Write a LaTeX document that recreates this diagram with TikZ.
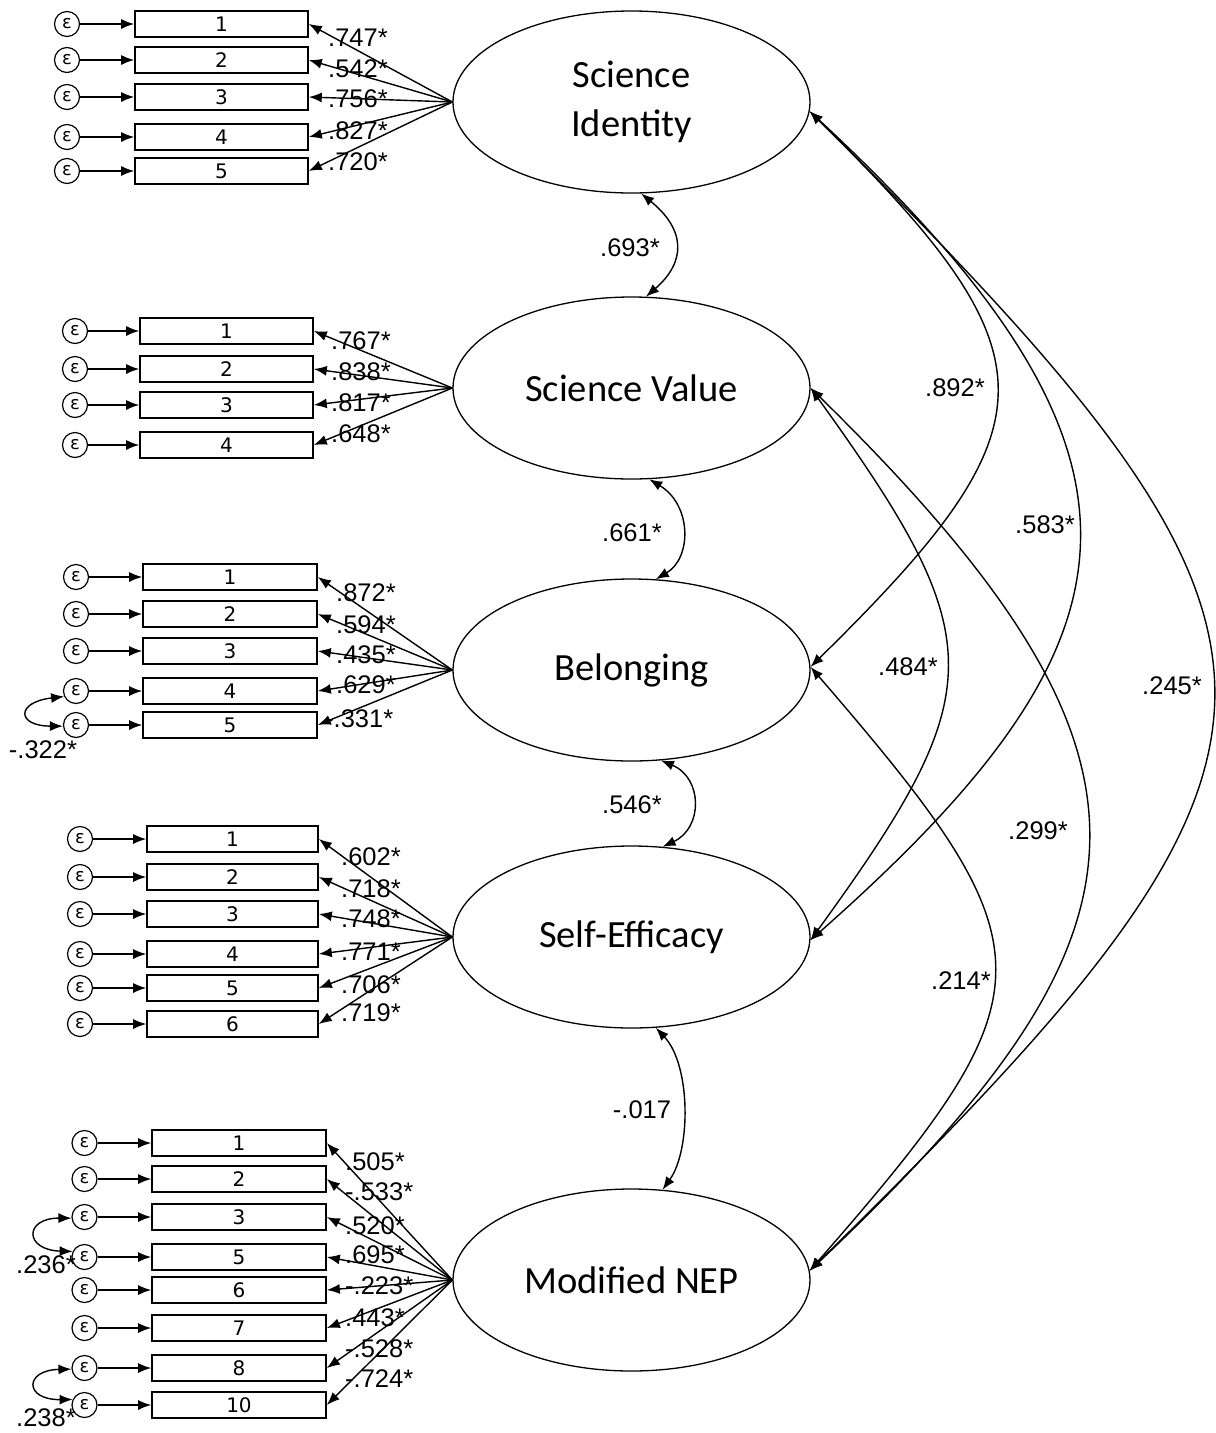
\documentclass[tikz,border=0pt]{standalone}
\usepackage{fontspec}
\setmainfont{Liberation Sans}
\newfontfamily\latfont{Carlito}
\newfontfamily\boxfont{DejaVu Sans}
\usetikzlibrary{arrows.meta,shapes.geometric}

\begin{document}
\begin{tikzpicture}[x=1pt,y=-1pt,
  latent/.style={draw, ellipse, line width=1.3pt, minimum width=357pt, minimum height=182pt,
    inner sep=0pt, align=center, font=\latfont\fontsize{38.5}{49}\selectfont},
  ind/.style={draw, rectangle, line width=1.6pt, minimum height=26pt, inner sep=0pt,
    font=\boxfont\fontsize{20}{20}\selectfont},
  err/.style={draw, circle, line width=1.2pt, minimum size=25pt, inner sep=0pt,
    font=\boxfont\fontsize{18}{18}\selectfont},
  arr/.style={line width=1.4pt, -{Latex[length=13pt,width=10pt]}},
  cov/.style={line width=1.4pt, {Latex[length=13pt,width=10pt]}-{Latex[length=13pt,width=10pt]}},
  lbl/.style={font=\fontsize{25.5}{25.5}\selectfont, inner sep=0pt},
]
\useasboundingbox[fill=white] (0,0) rectangle (1216,1433);

% latent factors
\node[latent] (si)  at (631.5,102)  {Science\\Identity};
\node[latent] (sv)  at (631.5,388)  {Science Value};
\node[latent] (bel) at (631.5,670)  {Belonging};
\node[latent] (se)  at (631.5,937)  {Self-Efficacy};
\node[latent] (nep) at (631.5,1280) {Modified NEP};

% Science Identity items
\foreach \n/\yy/\lab/\ly [count=\i] in {1/24/.747*/38, 2/60/.542*/69, 3/97/.756*/99,
    4/137/.827*/131, 5/171/.720*/162} {
  \node[ind, minimum width=173pt] (si\i) at (221.5,\yy) {\n};
  \node[err] (sie\i) at (67,\yy) {ε};
  \draw[arr] (sie\i) -- (si\i);
  \draw[arr] (si.west) -- (si\i.east);
  \node[lbl, anchor=west] (sil\i) at (328,\ly) {\lab};
}

% Science Value items
\foreach \n/\yy/\lab/\ly [count=\i] in {1/331/.767*/341, 2/369/.838*/372, 3/405/.817*/403,
    4/445/.648*/434} {
  \node[ind, minimum width=173pt] (sv\i) at (226.5,\yy) {\n};
  \node[err] (sve\i) at (75,\yy) {ε};
  \draw[arr] (sve\i) -- (sv\i);
  \draw[arr] (sv.west) -- (sv\i.east);
  \node[lbl, anchor=west] (svl\i) at (331,\ly) {\lab};
}

% Belonging items
\foreach \n/\yy/\lab/\ly/\lx [count=\i] in {1/577/.872*/593/336, 2/614/.594*/625/336,
    3/651/.435*/655/336, 4/691/.629*/685/336, 5/725/-.331*/719/325} {
  \node[ind, minimum width=174pt] (bel\i) at (230,\yy) {\n};
  \node[err] (bele\i) at (76,\yy) {ε};
  \draw[arr] (bele\i) -- (bel\i);
  \draw[arr] (bel.west) -- (bel\i.east);
  \node[lbl, anchor=west] (bell\i) at (\lx,\ly) {\lab};
}

% Self-Efficacy items
\foreach \n/\yy/\lab/\ly [count=\i] in {1/839/.602*/857, 2/877/.718*/889, 3/914/.748*/919,
    4/954/.771*/952, 5/988/.706*/985, 6/1024/.719*/1013} {
  \node[ind, minimum width=171pt] (se\i) at (232.5,\yy) {\n};
  \node[err] (see\i) at (80,\yy) {ε};
  \draw[arr] (see\i) -- (se\i);
  \draw[arr] (se.west) -- (se\i.east);
  \node[lbl, anchor=west] (sel\i) at (341,\ly) {\lab};
}

% Modified NEP items
\foreach \n/\yy/\lab/\ly [count=\i] in {1/1143/.505*/1162, 2/1179/-.533*/1192,
    3/1217/.520*/1226, 5/1257/.695*/1255, 6/1290/-.223*/1286, 7/1328/.443*/1318,
    8/1368/-.528*/1349, 10/1405/-.724*/1379} {
  \node[ind, minimum width=174pt] (nep\i) at (239,\yy) {\n};
  \node[err] (nepe\i) at (84.5,\yy) {ε};
  \draw[arr] (nepe\i) -- (nep\i);
  \draw[arr] (nep.west) -- (nep\i.east);
  \node[lbl, anchor=west] (nepl\i) at (345,\ly) {\lab};
}

% residual covariances
\draw[cov] (bele4.205) .. controls (16,702) and (16,726) .. (bele5.185);
\node[lbl] (c45) at (43,750) {-.322*};
\draw[cov] (nepe3.185) .. controls (24,1218) and (24,1250) .. (nepe4.155);
\node[lbl] (c35) at (46,1265) {.236*};
\draw[cov] (nepe7.185) .. controls (24,1370) and (24,1400) .. (nepe8.155);
\node[lbl] (c810) at (46,1418) {.238*};

% correlations between neighbouring factors
\draw[cov] (si.276) .. controls (686,230) and (686,262) .. (sv.81);
\node[lbl] (r12) at (630,248) {.693*};
\draw[cov] (sv.281) .. controls (692,505) and (692,558) .. (bel.75);
\node[lbl] (r23) at (632,533) {.661*};
\draw[cov] (bel.288) .. controls (703,778) and (703,828) .. (se.71);
\node[lbl] (r34) at (632,805) {.546*};
\draw[cov] (se.285) .. controls (691,1065) and (691,1150) .. (nep.71);
\node[lbl] (r45) at (642,1110) {-.017};

% long-range correlations on the right
\draw[cov] (si.357) .. controls (1058,356) and (1058,424) .. (bel.1);
\node[lbl] (r13) at (955,388) {.892*};
\draw[cov] (si.357) .. controls (1185,460) and (1150,640) .. (se.359);
\node[lbl] (r14) at (1045,525) {.583*};
\draw[cov] (si.357) .. controls (1347,645) and (1347,743) .. (nep.3);
\node[lbl] (r15) at (1172,686) {.245*};
\draw[cov] (sv.0) .. controls (992,640) and (992,690) .. (se.359);
\node[lbl] (r24) at (908,667) {.484*};
\draw[cov] (sv.0) .. controls (1190,760) and (1170,930) .. (nep.3);
\node[lbl] (r25) at (1038,831) {.299*};
\draw[cov] (bel.1) .. controls (1055,950) and (1055,990) .. (nep.3);
\node[lbl] (r35) at (961,981) {.214*};
\end{tikzpicture}
\end{document}
